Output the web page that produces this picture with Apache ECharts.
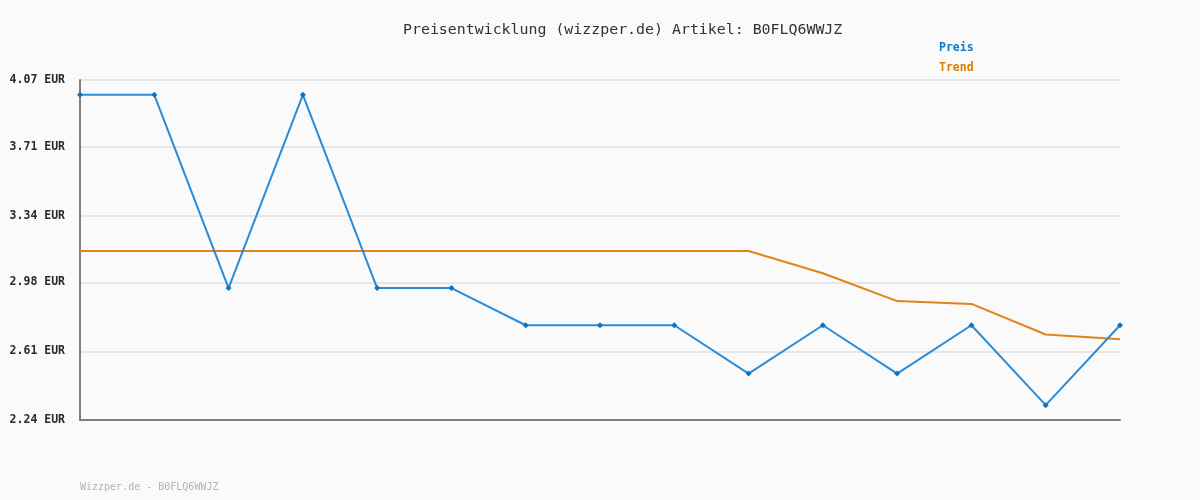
<!DOCTYPE html>
<html>
<head>
<meta charset="utf-8">
<script src="https://cdn.jsdelivr.net/npm/echarts@6/dist/echarts.min.js"></script>
<style>html,body{margin:0;padding:0;background:#fafafa;}#c{width:1200px;height:500px;}</style>
</head>
<body>
<div id="c"></div>
<script>
var categories = ['1','2','3','4','5','6','7','8','9','10','11','12','13','14','15'];
var preis = [3.99, 3.99, 2.95, 3.99, 2.95, 2.95, 2.75, 2.75, 2.75, 2.49, 2.75, 2.49, 2.75, 2.32, 2.75];
var trend = [3.15, 3.15, 3.15, 3.15, 3.15, 3.15, 3.15, 3.15, 3.15, 3.15, 3.03, 2.88, 2.865, 2.70, 2.675];
var yTicks = [2.24, 2.61, 2.98, 3.34, 3.71, 4.07];
var titleText = 'Preisentwicklung (wizzper.de) Artikel: B0FLQ6WWJZ';
var footerText = 'Wizzper.de - B0FLQ6WWJZ';

var FONT = '"DejaVu Sans Mono", monospace';
var chart = echarts.init(document.getElementById('c'));
chart.setOption({
  backgroundColor: '#fafafa',
  animation: false,
  title: {
    text: titleText,
    left: 398,
    top: 18,
    textStyle: { fontFamily: FONT, fontSize: 14.9, fontWeight: 'normal', color: '#333' }
  },
  legend: {
    orient: 'vertical',
    left: 929,
    top: 37,
    itemWidth: 0,
    itemHeight: 0,
    itemGap: 8,
    icon: 'rect',
    selectedMode: false,
    data: [
      { name: 'Preis', textStyle: { color: '#0d7bc8' } },
      { name: 'Trend', textStyle: { color: '#e07b00' } }
    ],
    textStyle: { fontFamily: FONT, fontSize: 11.5, fontWeight: 'bold' }
  },
  graphic: [{
    type: 'text',
    left: 80,
    top: 482,
    style: { text: footerText, font: '10px ' + FONT, fill: '#b4b4b4' }
  }],
  grid: { left: 80, right: 80, top: 80, bottom: 80 },
  xAxis: {
    type: 'category',
    data: categories,
    boundaryGap: false,
    axisLine: { lineStyle: { color: '#808080', width: 2 } },
    axisTick: { show: false },
    axisLabel: { show: false },
    splitLine: { show: false }
  },
  yAxis: {
    type: 'value',
    min: 2.24,
    max: 4.07,
    axisLine: { show: true, lineStyle: { color: '#808080', width: 2 } },
    axisTick: { show: false, customValues: yTicks },
    axisLabel: {
      customValues: yTicks,
      margin: 15,
      fontFamily: FONT,
      fontSize: 11.5,
      fontWeight: 'bold',
      color: '#2a2a2a',
      formatter: function (v) { return v.toFixed(2) + ' EUR'; }
    },
    splitLine: { show: true, lineStyle: { color: '#e6e6e6', width: 2 } }
  },
  series: [
    {
      name: 'Preis',
      type: 'line',
      data: preis,
      symbol: 'diamond',
      symbolSize: 6,
      lineStyle: { color: '#2a8bd6', width: 2 },
      itemStyle: { color: '#0a74c4' },
      z: 3
    },
    {
      name: 'Trend',
      type: 'line',
      data: trend,
      symbol: 'none',
      lineStyle: { color: '#e2831a', width: 2 },
      itemStyle: { color: '#e07b00' },
      z: 2
    }
  ]
});
</script>
</body>
</html>
